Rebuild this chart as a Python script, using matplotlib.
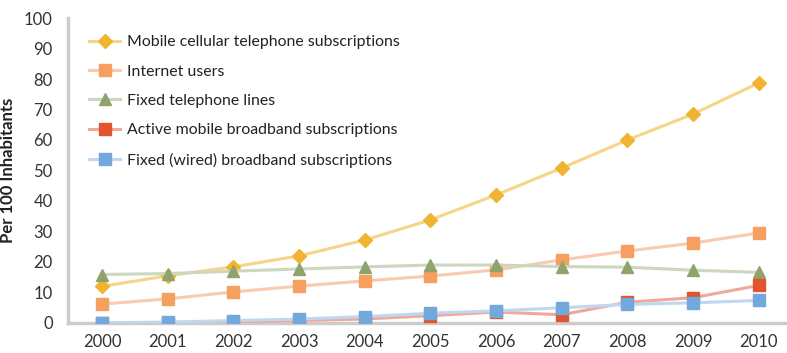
import matplotlib
matplotlib.use('Agg')
import matplotlib.pyplot as plt

years = [2000, 2001, 2002, 2003, 2004, 2005, 2006, 2007, 2008, 2009, 2010]

mobile_cellular = [12.0, 15.5, 18.4, 22.0, 27.2, 33.8, 42.0, 50.8, 60.0, 68.5, 78.7]
internet_users = [6.2, 7.9, 10.2, 12.1, 13.8, 15.4, 17.4, 20.7, 23.6, 26.2, 29.5]
fixed_telephone = [15.9, 16.2, 17.0, 17.7, 18.4, 19.0, 19.0, 18.5, 18.3, 17.3, 16.6]
mobile_broadband = [0.0, 0.1, 0.3, 0.8, 1.3, 2.4, 3.6, 2.7, 6.8, 8.3, 12.3]
fixed_broadband = [0.1, 0.3, 0.8, 1.3, 2.1, 3.2, 4.0, 5.0, 6.1, 6.6, 7.4]

labels = [
    'Mobile cellular telephone subscriptions',
    'Internet users',
    'Fixed telephone lines',
    'Active mobile broadband subscriptions',
    'Fixed (wired) broadband subscriptions',
]

plt.rcParams['font.family'] = ['Lato', 'DejaVu Sans']

fig = plt.figure(figsize=(7.87, 3.53), dpi=100)
ax = fig.add_axes([0.0864, 0.085, 0.911, 0.864])

# (values, marker, marker colour, line colour, marker size)
series = [
    (mobile_cellular, 'D', '#F0B432', '#F6D587', 6.8),
    (internet_users, 's', '#F5A060', '#F9CBAE', 8.5),
    (fixed_telephone, '^', '#8FA46C', '#CCD7BF', 8),
    (mobile_broadband, 's', '#E0552E', '#F0A898', 8.5),
    (fixed_broadband, 's', '#72A8DC', '#BED8F1', 9),
]

for (vals, mk, mcol, lcol, ms), lab in zip(series, labels):
    ax.plot(years, vals, '-', color=lcol, lw=2.2, marker=mk, ms=ms,
            markerfacecolor=mcol, markeredgecolor=mcol, label=lab, zorder=3)

ax.set_xlim(1999.48, 2010.4)
ax.set_ylim(0, 100)
ax.set_xticks(years)
ax.set_yticks(range(0, 101, 10))
ax.tick_params(axis='both', length=0, labelsize=12, colors='#333333')
ax.tick_params(axis='x', pad=8)
ax.tick_params(axis='y', pad=11)

for side in ['top', 'right']:
    ax.spines[side].set_visible(False)
for side in ['left', 'bottom']:
    ax.spines[side].set_color('#CCCCCC')
    ax.spines[side].set_linewidth(2.5)

ax.set_ylabel('Per 100 Inhabitants', fontsize=12, fontweight='bold', color='#222222', labelpad=6)

leg = ax.legend(loc='upper left', bbox_to_anchor=(0.02, 0.965), frameon=False,
                fontsize=11.4, handlelength=2.0, handletextpad=0.4, labelspacing=0.97,
                borderaxespad=0)
for t in leg.get_texts():
    t.set_color('#222222')

fig.savefig('out.png', dpi=100)
